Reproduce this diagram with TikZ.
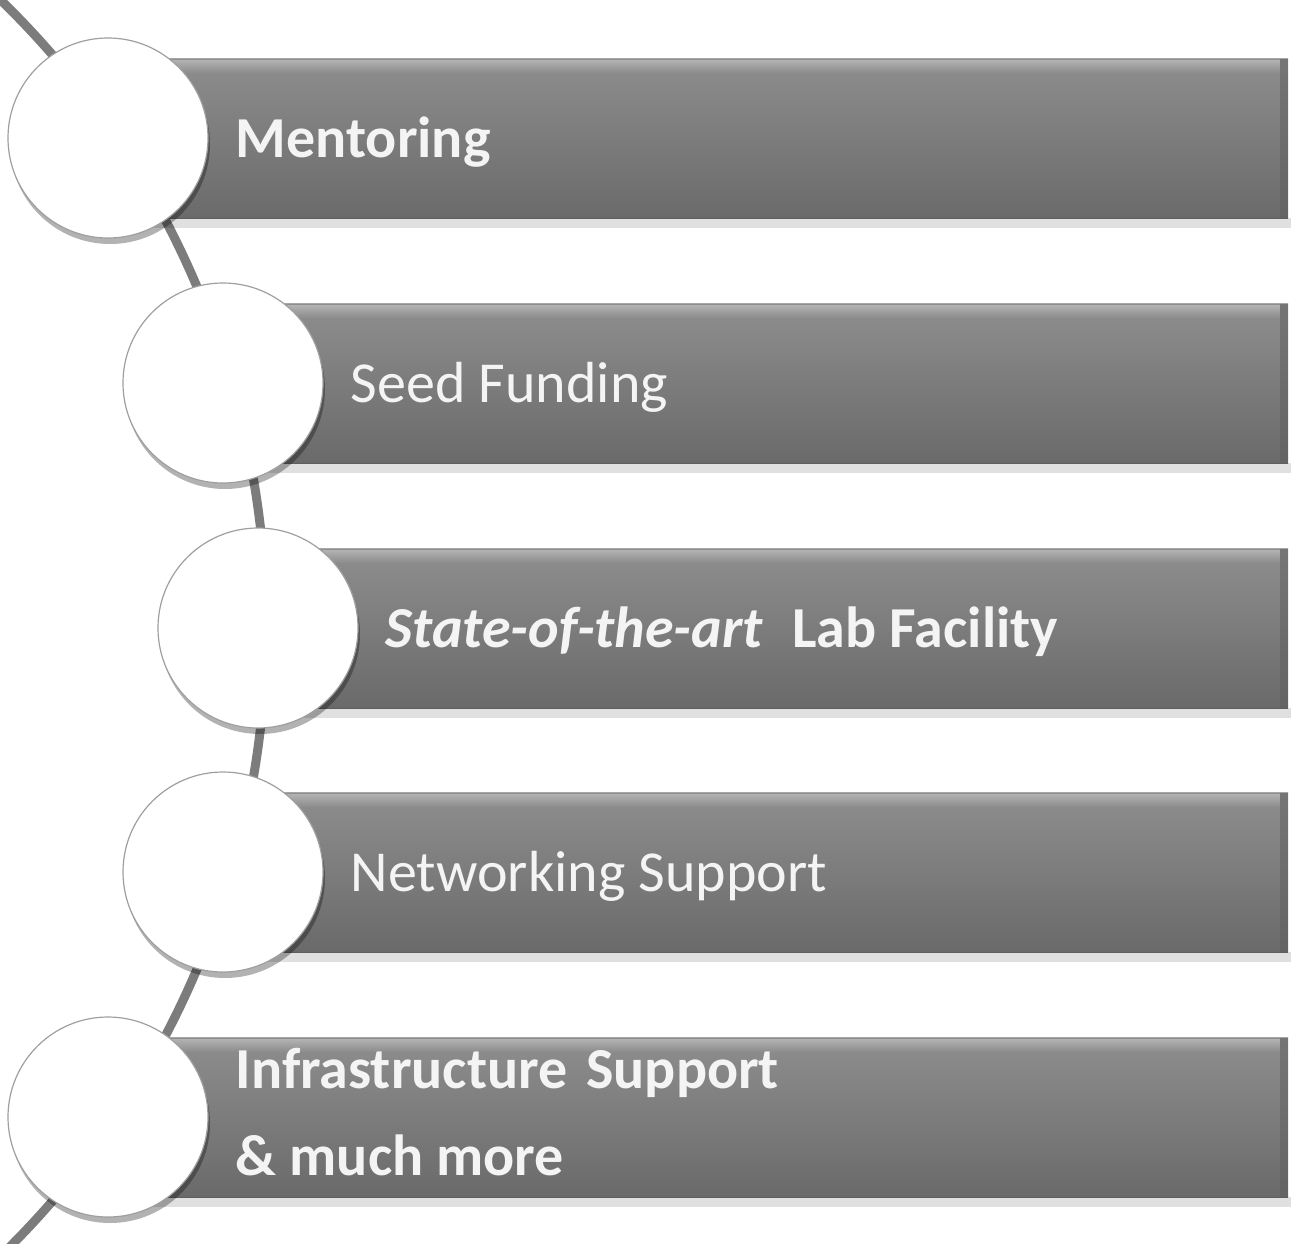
\documentclass[tikz,border=0pt]{standalone}
\usepackage{fontspec}
\setmainfont{Carlito}
\usetikzlibrary{shadows}

\definecolor{barTop}{HTML}{8E8E8E}
\definecolor{barBot}{HTML}{6A6A6A}
\definecolor{barLight}{HTML}{B2B2B2}
\definecolor{barEdge}{HTML}{5E5E5E}
\definecolor{spine}{HTML}{7C7C7C}
\definecolor{labelWhite}{HTML}{F4F4F4}

\tikzset{
  bullet/.style={circle, draw=gray!75, line width=1.2pt, fill=white,
    minimum size=200pt, inner sep=0pt,
    drop shadow={shadow xshift=2pt, shadow yshift=-6pt, opacity=.3, fill=black}},
  bartext/.style={anchor=base west, text=labelWhite, inner sep=0pt, align=left,
    font=\fontsize{58}{87}\selectfont},
}

\begin{document}
\begin{tikzpicture}[x=1pt,y=1pt]
    \useasboundingbox (0,0) rectangle (1291,-1243);

    % spine behind the circles
    \coordinate (s0) at (-12,12);
    \draw[spine, line width=9pt] (s0) arc[start angle=47, end angle=-47, radius=875];

    % bars and circles
    \foreach \n/\x/\y in {1/108/138, 2/223/383, 3/258/628, 4/223/872, 5/108/1117}
    {
        \fill[black, opacity=.12] (\x,-\y-80) rectangle (1291,-\y-90);
        \shade[top color=barTop, bottom color=barBot] (\x,-\y+80) rectangle (1288,-\y-80);
        \shade[top color=barLight, bottom color=barTop] (\x,-\y+78) rectangle (1280,-\y+66);
        \fill[barEdge, opacity=.5] (1280,-\y+80) rectangle (1288,-\y-80);
        \draw[barEdge, line width=1pt] (\x,-\y-80) -- (1288,-\y-80);
        \draw[gray!70, line width=1pt] (\x,-\y+80) -- (1288,-\y+80);
        \node[bullet] (c\n) at (\x,-\y) {};
    }

    % labels
    \node[bartext] (t1) at ([xshift=27pt, yshift=-19pt]c1.east) {\textbf{Mentoring}};
    \node[bartext] (t2) at ([xshift=27pt, yshift=-19pt]c2.east) {Seed Funding};
    \node[bartext] (t3) at ([xshift=27pt, yshift=-19pt]c3.east) {\textbf{\textit{State-of-the-art}}\hspace{0.5em}\textbf{Lab Facility}};
    \node[bartext] (t4) at ([xshift=27pt, yshift=-19pt]c4.east) {Networking Support};
    \node[bartext] (t5) at ([xshift=27pt, yshift=-58pt]c5.east) {\textbf{Infrastructure\hspace{0.1em} Support}\\\textbf{\& much more}};
\end{tikzpicture}
\end{document}
